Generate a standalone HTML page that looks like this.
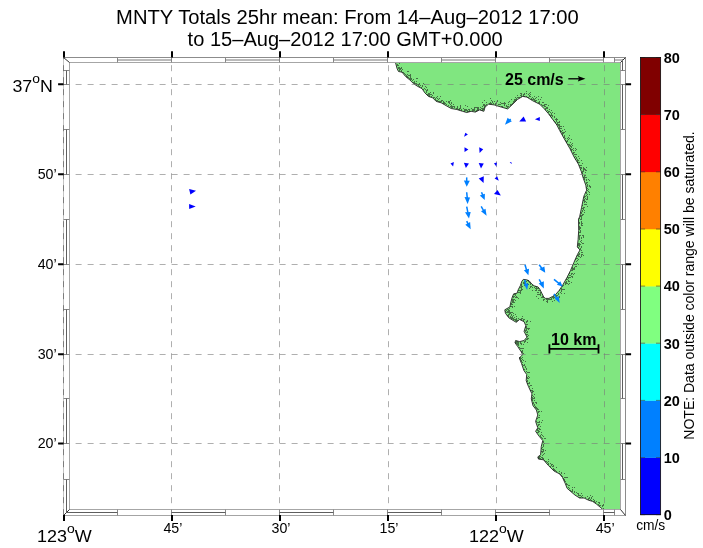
<!DOCTYPE html>
<html><head><meta charset="utf-8"><title>MNTY Totals 25hr mean</title>
<style>html,body{margin:0;padding:0;background:#fff}svg{display:block}</style></head>
<body>
<svg width="703" height="548" viewBox="0 0 703 548" font-family="'Liberation Sans', sans-serif">
<rect width="703" height="548" fill="#fff"/>
<polygon points="395.4,62.2 397.1,68.7 398.5,71.5 402.1,72.2 405.6,76.5 409.9,80.0 413.5,83.6 417.7,86.4 422.0,88.6 424.9,92.9 428.4,96.4 432.7,97.8 436.2,101.4 441.2,102.8 446.2,105.7 451.2,108.5 456.9,109.5 462.5,111.3 466.8,112.5 471.1,111.3 475.3,112.1 479.6,109.9 483.9,111.3 485.0,107.1 488.5,104.2 494.2,104.9 501.3,107.1 507.7,108.9 512.0,104.9 517.7,99.3 522.7,96.4 526.9,97.1 532.6,100.7 539.7,104.2 544.0,108.5 548.3,113.5 552.5,119.2 556.8,124.9 559.7,130.5 564.1,138.5 569.8,148.4 574.1,157.0 578.4,164.1 581.2,171.2 583.3,178.3 585.8,185.2 586.6,190.2 584.6,194.5 583.8,196.4 581.5,207.8 579.6,216.9 578.5,219.1 578.7,230.5 578.1,239.6 577.3,247.0 580.0,250.0 577.4,254.6 573.9,262.5 570.5,270.5 567.1,277.3 562.6,285.3 559.2,290.4 555.7,294.4 552.3,296.6 548.9,298.4 545.5,298.4 543.8,297.2 542.1,293.8 539.8,289.2 538.1,287.0 534.1,285.8 531.9,284.1 529.0,280.7 526.7,279.8 523.3,279.4 521.8,281.3 520.5,285.3 518.2,289.8 517.1,293.2 513.7,293.8 512.3,297.0 511.0,301.5 509.9,306.9 504.8,309.8 505.4,313.2 508.8,317.8 516.2,322.3 519.6,319.5 524.1,321.7 525.8,325.7 524.1,331.4 527.0,337.1 524.1,340.5 519.6,341.6 515.6,340.5 515.0,342.8 517.9,346.8 521.3,351.9 522.6,354.7 519.3,358.0 521.6,363.7 523.9,370.5 526.7,374.5 526.2,380.7 528.4,386.4 531.9,393.8 531.3,398.9 533.0,405.7 536.4,410.0 537.8,415.0 535.6,421.4 537.8,427.8 535.6,431.3 539.2,436.3 542.8,440.6 541.3,446.3 540.6,454.8 537.8,456.9 538.5,459.1 543.5,459.8 548.4,465.5 554.1,471.1 559.5,473.8 562.5,477.5 565.4,483.8 567.1,488.3 571.0,491.7 575.0,495.1 579.6,498.0 584.1,498.0 588.7,500.3 592.7,501.4 596.6,504.2 600.1,507.1 602.5,509.2 620.6,509.4 620.6,62.6" fill="#80e680"/>
<polyline points="395.4,62.2 397.1,68.7 398.5,71.5 402.1,72.2 405.6,76.5 409.9,80.0 413.5,83.6 417.7,86.4 422.0,88.6 424.9,92.9 428.4,96.4 432.7,97.8 436.2,101.4 441.2,102.8 446.2,105.7 451.2,108.5 456.9,109.5 462.5,111.3 466.8,112.5 471.1,111.3 475.3,112.1 479.6,109.9 483.9,111.3 485.0,107.1 488.5,104.2 494.2,104.9 501.3,107.1 507.7,108.9 512.0,104.9 517.7,99.3 522.7,96.4 526.9,97.1 532.6,100.7 539.7,104.2 544.0,108.5 548.3,113.5 552.5,119.2 556.8,124.9 559.7,130.5 564.1,138.5 569.8,148.4 574.1,157.0 578.4,164.1 581.2,171.2 583.3,178.3 585.8,185.2 586.6,190.2 584.6,194.5 583.8,196.4 581.5,207.8 579.6,216.9 578.5,219.1 578.7,230.5 578.1,239.6 577.3,247.0 580.0,250.0 577.4,254.6 573.9,262.5 570.5,270.5 567.1,277.3 562.6,285.3 559.2,290.4 555.7,294.4 552.3,296.6 548.9,298.4 545.5,298.4 543.8,297.2 542.1,293.8 539.8,289.2 538.1,287.0 534.1,285.8 531.9,284.1 529.0,280.7 526.7,279.8 523.3,279.4 521.8,281.3 520.5,285.3 518.2,289.8 517.1,293.2 513.7,293.8 512.3,297.0 511.0,301.5 509.9,306.9 504.8,309.8 505.4,313.2 508.8,317.8 516.2,322.3 519.6,319.5 524.1,321.7 525.8,325.7 524.1,331.4 527.0,337.1 524.1,340.5 519.6,341.6 515.6,340.5 515.0,342.8 517.9,346.8 521.3,351.9 522.6,354.7 519.3,358.0 521.6,363.7 523.9,370.5 526.7,374.5 526.2,380.7 528.4,386.4 531.9,393.8 531.3,398.9 533.0,405.7 536.4,410.0 537.8,415.0 535.6,421.4 537.8,427.8 535.6,431.3 539.2,436.3 542.8,440.6 541.3,446.3 540.6,454.8 537.8,456.9 538.5,459.1 543.5,459.8 548.4,465.5 554.1,471.1 559.5,473.8 562.5,477.5 565.4,483.8 567.1,488.3 571.0,491.7 575.0,495.1 579.6,498.0 584.1,498.0 588.7,500.3 592.7,501.4 596.6,504.2 600.1,507.1 602.5,509.2" fill="none" stroke="#222" stroke-width="0.9" stroke-linejoin="round"/>
<path d="M397 65.5h1M399 63.5h1M397 64.5h1M397 64.5h1M398 67.5h1M398 65.5h1M399 67.5h1M398 68.5h1M398 65.5h1M399 67.5h1M398 68.5h1M401 68.5h1M400 68.5h1M399 68.5h1M399 70.5h1M399 69.5h1M401 71.5h1M402 69.5h1M399 67.5h1M399 69.5h1M401 67.5h1M401 70.5h1M400 69.5h1M401 70.5h1M407 71.5h1M406 75.5h1M404 73.5h1M405 74.5h1M408 71.5h1M403 72.5h1M404 73.5h1M404 73.5h1M403 72.5h1M405 74.5h1M402 72.5h1M407 74.5h1M410 74.5h1M410 77.5h1M409 78.5h1M409 75.5h1M410 78.5h1M406 76.5h1M407 76.5h1M410 76.5h1M408 75.5h1M407 77.5h1M410 75.5h1M408 77.5h1M416 78.5h1M414 81.5h1M413 82.5h1M413 79.5h1M411 79.5h1M410 79.5h1M411 79.5h1M411 78.5h1M410 79.5h1M412 80.5h1M411 78.5h1M416 81.5h1M415 83.5h1M417 84.5h1M419 83.5h1M414 82.5h1M414 82.5h1M418 84.5h1M417 78.5h1M416 83.5h1M414 83.5h1M416 84.5h1M421 87.5h1M420 85.5h1M418 85.5h1M422 85.5h1M419 86.5h1M424 84.5h1M422 86.5h1M423 83.5h1M419 84.5h1M418 85.5h1M418 85.5h1M426 91.5h1M427 90.5h1M423 89.5h1M424 88.5h1M426 87.5h1M427 89.5h1M425 89.5h1M425 86.5h1M427 89.5h1M426 90.5h1M425 89.5h1M430 92.5h1M430 94.5h1M429 94.5h1M428 94.5h1M426 92.5h1M428 95.5h1M429 94.5h1M429 95.5h1M428 93.5h1M427 94.5h1M433 93.5h1M432 95.5h1M429 96.5h1M430 94.5h1M431 96.5h1M429 93.5h1M432 95.5h1M431 94.5h1M433 92.5h1M431 94.5h1M436 97.5h1M433 97.5h1M433 97.5h1M435 98.5h1M437 98.5h1M435 98.5h1M435 99.5h1M435 98.5h1M434 97.5h1M437 96.5h1M435 99.5h1M440 96.5h1M439 98.5h1M438 101.5h1M440 96.5h1M440 101.5h1M441 100.5h1M439 101.5h1M441 101.5h1M437 100.5h1M438 99.5h1M436 100.5h1M445 103.5h1M445 103.5h1M446 101.5h1M448 101.5h1M443 101.5h1M444 103.5h1M446 104.5h1M444 102.5h1M444 103.5h1M443 102.5h1M446 101.5h1M443 103.5h1M442 100.5h1M448 102.5h1M452 106.5h1M450 100.5h1M449 102.5h1M448 105.5h1M449 101.5h1M451 105.5h1M449 103.5h1M451 103.5h1M450 106.5h1M450 106.5h1M451 102.5h1M450 104.5h1M451 107.5h1M456 108.5h1M454 106.5h1M457 106.5h1M453 106.5h1M453 106.5h1M451 107.5h1M452 107.5h1M453 106.5h1M453 104.5h1M454 107.5h1M451 106.5h1M453 104.5h1M458 109.5h1M460 108.5h1M461 110.5h1M460 105.5h1M459 109.5h1M460 107.5h1M461 109.5h1M460 106.5h1M459 108.5h1M457 108.5h1M461 110.5h1M457 107.5h1M466 110.5h1M464 109.5h1M464 109.5h1M464 111.5h1M465 105.5h1M465 110.5h1M464 109.5h1M464 110.5h1M463 108.5h1M465 109.5h1M468 109.5h1M467 111.5h1M468 111.5h1M467 111.5h1M466 109.5h1M469 109.5h1M469 110.5h1M467 106.5h1M467 110.5h1M469 111.5h1M471 108.5h1M474 107.5h1M474 110.5h1M473 110.5h1M473 109.5h1M475 107.5h1M474 108.5h1M474 109.5h1M472 109.5h1M472 110.5h1M477 107.5h1M477 109.5h1M477 109.5h1M478 109.5h1M476 107.5h1M477 110.5h1M475 111.5h1M474 109.5h1M476 110.5h1M477 108.5h1M482 108.5h1M483 108.5h1M483 108.5h1M480 107.5h1M480 109.5h1M482 106.5h1M482 109.5h1M480 109.5h1M483 109.5h1M482 106.5h1M482 108.5h1M484 107.5h1M478 108.5h1M482 110.5h1M481 108.5h1M478 107.5h1M482 109.5h1M478 108.5h1M482 108.5h1M482 106.5h1M484 100.5h1M486 104.5h1M484 104.5h1M483 105.5h1M483 104.5h1M485 105.5h1M484 105.5h1M486 102.5h1M484 106.5h1M482 102.5h1M492 102.5h1M490 102.5h1M491 100.5h1M490 103.5h1M491 103.5h1M489 103.5h1M493 103.5h1M490 98.5h1M490 102.5h1M490 103.5h1M494 101.5h1M492 101.5h1M494 101.5h1M495 103.5h1M500 102.5h1M499 104.5h1M497 100.5h1M495 103.5h1M498 104.5h1M500 104.5h1M501 106.5h1M497 101.5h1M498 104.5h1M495 103.5h1M496 102.5h1M496 103.5h1M501 103.5h1M495 104.5h1M496 103.5h1M495 103.5h1M504 102.5h1M506 105.5h1M504 104.5h1M504 105.5h1M504 105.5h1M507 107.5h1M503 103.5h1M506 108.5h1M502 106.5h1M504 105.5h1M505 103.5h1M507 106.5h1M502 103.5h1M507 107.5h1M508 104.5h1M511 104.5h1M508 102.5h1M504 103.5h1M506 106.5h1M508 104.5h1M510 104.5h1M508 102.5h1M508 106.5h1M510 105.5h1M506 105.5h1M507 106.5h1M507 107.5h1M509 101.5h1M509 101.5h1M513 102.5h1M512 103.5h1M513 102.5h1M511 99.5h1M516 98.5h1M514 101.5h1M515 97.5h1M515 100.5h1M514 101.5h1M514 99.5h1M514 100.5h1M516 99.5h1M513 102.5h1M513 101.5h1M515 99.5h1M514 99.5h1M518 97.5h1M521 96.5h1M520 95.5h1M517 95.5h1M517 97.5h1M517 95.5h1M521 94.5h1M517 97.5h1M521 95.5h1M517 97.5h1M519 97.5h1M520 93.5h1M521 93.5h1M524 93.5h1M526 91.5h1M523 94.5h1M524 94.5h1M524 96.5h1M523 95.5h1M524 94.5h1M526 96.5h1M524 93.5h1M526 93.5h1M528 94.5h1M532 99.5h1M530 94.5h1M529 93.5h1M530 96.5h1M529 93.5h1M530 92.5h1M529 95.5h1M532 97.5h1M529 96.5h1M533 98.5h1M531 98.5h1M528 97.5h1M531 99.5h1M534 96.5h1M536 97.5h1M538 96.5h1M536 100.5h1M535 98.5h1M539 102.5h1M534 99.5h1M540 99.5h1M539 101.5h1M535 100.5h1M535 101.5h1M534 100.5h1M538 102.5h1M533 99.5h1M538 99.5h1M541 97.5h1M539 103.5h1M533 99.5h1M544 105.5h1M542 105.5h1M544 105.5h1M546 104.5h1M545 104.5h1M543 102.5h1M544 104.5h1M542 102.5h1M541 104.5h1M544 106.5h1M543 105.5h1M545 106.5h1M542 105.5h1M551 110.5h1M548 105.5h1M548 111.5h1M549 111.5h1M545 108.5h1M547 107.5h1M548 112.5h1M547 108.5h1M546 108.5h1M548 111.5h1M547 110.5h1M547 110.5h1M546 107.5h1M545 109.5h1M549 109.5h1M550 112.5h1M552 112.5h1M551 114.5h1M554 113.5h1M550 112.5h1M552 115.5h1M552 116.5h1M552 116.5h1M550 115.5h1M554 117.5h1M551 113.5h1M551 115.5h1M554 116.5h1M549 114.5h1M551 117.5h1M554 121.5h1M559 121.5h1M557 119.5h1M556 118.5h1M555 122.5h1M559 122.5h1M555 119.5h1M556 121.5h1M556 120.5h1M558 122.5h1M557 122.5h1M557 124.5h1M557 123.5h1M557 123.5h1M556 124.5h1M556 119.5h1M559 124.5h1M559 128.5h1M561 128.5h1M560 128.5h1M559 126.5h1M559 127.5h1M558 125.5h1M559 128.5h1M559 127.5h1M563 126.5h1M558 124.5h1M561 126.5h1M559 125.5h1M560 126.5h1M563 133.5h1M564 132.5h1M562 133.5h1M561 131.5h1M565 131.5h1M561 131.5h1M560 131.5h1M563 132.5h1M563 133.5h1M560 130.5h1M564 135.5h1M564 136.5h1M562 134.5h1M562 132.5h1M564 136.5h1M564 137.5h1M564 129.5h1M569 135.5h1M564 137.5h1M562 130.5h1M571 139.5h1M571 144.5h1M569 138.5h1M570 145.5h1M571 146.5h1M565 140.5h1M568 139.5h1M565 138.5h1M570 146.5h1M569 144.5h1M569 145.5h1M568 137.5h1M567 141.5h1M572 145.5h1M570 146.5h1M568 137.5h1M566 142.5h1M569 145.5h1M566 141.5h1M567 138.5h1M572 143.5h1M567 140.5h1M570 142.5h1M568 144.5h1M571 147.5h1M573 153.5h1M576 149.5h1M571 149.5h1M571 150.5h1M570 148.5h1M573 150.5h1M572 149.5h1M573 152.5h1M573 153.5h1M575 150.5h1M575 148.5h1M573 148.5h1M575 154.5h1M574 154.5h1M571 147.5h1M574 152.5h1M573 153.5h1M575 150.5h1M572 149.5h1M576 154.5h1M576 158.5h1M574 157.5h1M577 160.5h1M579 162.5h1M578 160.5h1M579 158.5h1M578 156.5h1M576 158.5h1M578 162.5h1M577 162.5h1M578 162.5h1M581 160.5h1M577 159.5h1M576 157.5h1M575 156.5h1M575 159.5h1M581 160.5h1M577 161.5h1M583 168.5h1M580 167.5h1M584 169.5h1M579 165.5h1M579 165.5h1M579 165.5h1M586 167.5h1M581 165.5h1M580 165.5h1M583 169.5h1M583 167.5h1M585 169.5h1M581 168.5h1M584 168.5h1M581 167.5h1M580 165.5h1M582 163.5h1M583 171.5h1M583 177.5h1M582 173.5h1M582 171.5h1M585 175.5h1M585 175.5h1M583 170.5h1M584 176.5h1M584 176.5h1M584 177.5h1M584 177.5h1M582 172.5h1M586 170.5h1M584 176.5h1M584 175.5h1M585 172.5h1M585 170.5h1M586 179.5h1M586 180.5h1M584 179.5h1M586 182.5h1M587 184.5h1M586 180.5h1M586 177.5h1M588 179.5h1M586 179.5h1M587 182.5h1M586 183.5h1M584 178.5h1M585 177.5h1M584 179.5h1M589 180.5h1M586 187.5h1M587 186.5h1M588 189.5h1M587 186.5h1M590 187.5h1M587 185.5h1M587 188.5h1M587 188.5h1M589 186.5h1M590 186.5h1M589 185.5h1M587 190.5h1M586 195.5h1M589 194.5h1M589 192.5h1M589 194.5h1M586 193.5h1M586 193.5h1M588 191.5h1M587 194.5h1M589 192.5h1M586 192.5h1M587 196.5h1M584 196.5h1M586 195.5h1M585 196.5h1M584 199.5h1M584 200.5h1M583 200.5h1M587 199.5h1M584 197.5h1M583 207.5h1M583 207.5h1M582 205.5h1M586 199.5h1M584 204.5h1M584 201.5h1M587 197.5h1M585 204.5h1M584 202.5h1M585 198.5h1M586 204.5h1M584 207.5h1M586 202.5h1M585 201.5h1M584 199.5h1M587 206.5h1M584 204.5h1M585 204.5h1M584 201.5h1M587 198.5h1M581 215.5h1M584 210.5h1M584 212.5h1M582 211.5h1M582 214.5h1M581 213.5h1M582 215.5h1M581 217.5h1M583 208.5h1M580 215.5h1M581 216.5h1M581 213.5h1M581 212.5h1M583 214.5h1M582 215.5h1M580 216.5h1M582 210.5h1M582 215.5h1M583 209.5h1M582 208.5h1M581 219.5h1M579 218.5h1M580 219.5h1M581 218.5h1M581 219.5h1M580 228.5h1M579 223.5h1M580 227.5h1M580 228.5h1M581 225.5h1M581 221.5h1M579 226.5h1M580 228.5h1M581 222.5h1M582 225.5h1M582 223.5h1M579 228.5h1M581 221.5h1M579 223.5h1M579 227.5h1M579 222.5h1M581 224.5h1M581 223.5h1M581 223.5h1M579 229.5h1M579 228.5h1M579 229.5h1M580 228.5h1M579 226.5h1M579 229.5h1M580 232.5h1M579 232.5h1M579 237.5h1M579 238.5h1M581 237.5h1M583 236.5h1M581 237.5h1M583 237.5h1M579 238.5h1M582 235.5h1M583 237.5h1M580 235.5h1M579 232.5h1M580 235.5h1M580 231.5h1M579 235.5h1M583 235.5h1M580 230.5h1M581 238.5h1M579 236.5h1M583 243.5h1M581 240.5h1M578 244.5h1M578 244.5h1M579 244.5h1M578 247.5h1M583 243.5h1M579 239.5h1M579 245.5h1M579 246.5h1M581 242.5h1M578 245.5h1M580 241.5h1M579 243.5h1M579 245.5h1M582 243.5h1M578 243.5h1M581 246.5h1M580 248.5h1M579 246.5h1M581 246.5h1M580 244.5h1M581 247.5h1M579 245.5h1M579 246.5h1M580 249.5h1M579 253.5h1M583 255.5h1M581 254.5h1M581 254.5h1M579 253.5h1M582 254.5h1M579 254.5h1M581 250.5h1M581 255.5h1M581 252.5h1M578 254.5h1M582 252.5h1M577 258.5h1M577 260.5h1M577 263.5h1M578 255.5h1M578 256.5h1M577 263.5h1M578 259.5h1M575 259.5h1M577 263.5h1M576 258.5h1M578 256.5h1M578 256.5h1M581 256.5h1M577 255.5h1M578 264.5h1M579 256.5h1M578 255.5h1M576 261.5h1M580 257.5h1M572 270.5h1M574 269.5h1M573 269.5h1M574 267.5h1M571 270.5h1M572 268.5h1M572 267.5h1M573 269.5h1M572 268.5h1M575 264.5h1M576 264.5h1M575 266.5h1M573 268.5h1M574 264.5h1M574 268.5h1M574 268.5h1M572 269.5h1M571 270.5h1M576 266.5h1M568 277.5h1M573 274.5h1M572 276.5h1M569 275.5h1M573 274.5h1M571 274.5h1M572 277.5h1M570 277.5h1M571 273.5h1M569 273.5h1M570 275.5h1M574 273.5h1M569 277.5h1M572 276.5h1M572 273.5h1M571 276.5h1M568 281.5h1M565 284.5h1M566 279.5h1M571 282.5h1M565 282.5h1M568 280.5h1M566 279.5h1M569 283.5h1M568 278.5h1M569 281.5h1M568 284.5h1M567 283.5h1M566 282.5h1M567 279.5h1M567 279.5h1M566 283.5h1M566 281.5h1M567 277.5h1M563 285.5h1M565 283.5h1M565 284.5h1M563 289.5h1M561 290.5h1M562 289.5h1M561 289.5h1M564 289.5h1M561 290.5h1M559 290.5h1M562 286.5h1M562 286.5h1M561 288.5h1M564 293.5h1M561 291.5h1M558 293.5h1M556 295.5h1M561 293.5h1M557 295.5h1M558 294.5h1M560 292.5h1M557 295.5h1M559 290.5h1M561 293.5h1M559 297.5h1M559 296.5h1M554 297.5h1M553 298.5h1M553 296.5h1M553 297.5h1M554 297.5h1M554 297.5h1M555 296.5h1M556 296.5h1M555 295.5h1M552 301.5h1M552 297.5h1M553 298.5h1M549 299.5h1M550 299.5h1M551 298.5h1M554 300.5h1M551 299.5h1M547 300.5h1M546 301.5h1M548 299.5h1M546 299.5h1M547 301.5h1M547 302.5h1M547 299.5h1M543 299.5h1M543 300.5h1M543 297.5h1M544 299.5h1M543 297.5h1M541 297.5h1M542 296.5h1M538 298.5h1M536 296.5h1M540 295.5h1M540 294.5h1M542 297.5h1M539 294.5h1M542 297.5h1M539 294.5h1M538 290.5h1M540 292.5h1M539 290.5h1M538 294.5h1M540 293.5h1M537 294.5h1M538 294.5h1M538 292.5h1M540 293.5h1M537 292.5h1M538 288.5h1M537 288.5h1M538 288.5h1M537 288.5h1M536 290.5h1M535 290.5h1M532 290.5h1M536 287.5h1M536 288.5h1M536 289.5h1M536 287.5h1M535 286.5h1M535 288.5h1M535 286.5h1M534 287.5h1M531 286.5h1M529 288.5h1M530 286.5h1M530 287.5h1M532 285.5h1M532 287.5h1M530 284.5h1M530 283.5h1M530 284.5h1M529 282.5h1M529 282.5h1M527 284.5h1M530 284.5h1M528 281.5h1M530 284.5h1M528 284.5h1M527 280.5h1M527 284.5h1M527 283.5h1M527 280.5h1M526 281.5h1M524 284.5h1M524 282.5h1M524 283.5h1M525 281.5h1M525 281.5h1M523 282.5h1M523 283.5h1M523 282.5h1M527 284.5h1M524 281.5h1M524 281.5h1M524 281.5h1M525 281.5h1M523 282.5h1M521 285.5h1M526 285.5h1M524 285.5h1M525 282.5h1M521 284.5h1M525 283.5h1M524 284.5h1M523 282.5h1M521 288.5h1M520 287.5h1M521 289.5h1M520 290.5h1M520 287.5h1M522 289.5h1M521 286.5h1M521 287.5h1M520 287.5h1M522 286.5h1M521 288.5h1M520 293.5h1M519 290.5h1M520 292.5h1M519 292.5h1M518 290.5h1M520 291.5h1M518 292.5h1M521 290.5h1M515 297.5h1M515 295.5h1M514 294.5h1M514 294.5h1M516 296.5h1M515 294.5h1M514 294.5h1M518 298.5h1M515 294.5h1M514 296.5h1M515 297.5h1M516 297.5h1M513 296.5h1M517 297.5h1M512 300.5h1M512 301.5h1M513 297.5h1M515 300.5h1M513 302.5h1M512 300.5h1M513 301.5h1M513 299.5h1M512 299.5h1M514 299.5h1M513 300.5h1M511 306.5h1M512 304.5h1M511 303.5h1M514 302.5h1M512 302.5h1M512 306.5h1M514 306.5h1M511 306.5h1M512 307.5h1M514 302.5h1M511 304.5h1M510 306.5h1M508 311.5h1M507 309.5h1M509 310.5h1M508 312.5h1M509 313.5h1M508 310.5h1M508 309.5h1M509 312.5h1M506 312.5h1M509 311.5h1M505 311.5h1M510 312.5h1M509 308.5h1M507 312.5h1M507 309.5h1M507 312.5h1M509 312.5h1M507 312.5h1M506 310.5h1M507 311.5h1M507 315.5h1M511 312.5h1M512 312.5h1M508 310.5h1M508 312.5h1M509 314.5h1M508 316.5h1M508 315.5h1M508 314.5h1M507 315.5h1M510 313.5h1M510 316.5h1M510 317.5h1M515 320.5h1M510 317.5h1M513 318.5h1M516 318.5h1M511 314.5h1M511 318.5h1M514 319.5h1M511 317.5h1M511 315.5h1M512 317.5h1M512 318.5h1M515 320.5h1M514 317.5h1M513 319.5h1M513 313.5h1M516 319.5h1M513 315.5h1M512 316.5h1M515 314.5h1M516 321.5h1M516 320.5h1M515 319.5h1M516 316.5h1M516 320.5h1M515 320.5h1M518 318.5h1M516 320.5h1M517 320.5h1M522 318.5h1M523 320.5h1M521 319.5h1M521 318.5h1M522 316.5h1M521 319.5h1M520 319.5h1M521 318.5h1M524 319.5h1M524 319.5h1M523 319.5h1M526 322.5h1M527 324.5h1M530 321.5h1M526 321.5h1M526 324.5h1M527 321.5h1M526 322.5h1M526 321.5h1M527 324.5h1M527 320.5h1M525 330.5h1M527 328.5h1M528 328.5h1M526 328.5h1M525 330.5h1M526 327.5h1M526 329.5h1M527 328.5h1M526 326.5h1M525 327.5h1M526 330.5h1M529 328.5h1M527 331.5h1M528 335.5h1M525 330.5h1M527 334.5h1M527 332.5h1M526 334.5h1M528 335.5h1M526 332.5h1M525 331.5h1M527 336.5h1M528 329.5h1M525 331.5h1M526 332.5h1M527 332.5h1M526 334.5h1M527 342.5h1M527 339.5h1M526 339.5h1M528 338.5h1M525 340.5h1M528 338.5h1M525 340.5h1M527 338.5h1M527 338.5h1M525 341.5h1M524 341.5h1M521 344.5h1M520 342.5h1M520 343.5h1M523 344.5h1M521 343.5h1M520 343.5h1M524 342.5h1M521 344.5h1M520 343.5h1M515 342.5h1M516 343.5h1M517 341.5h1M517 342.5h1M517 342.5h1M518 343.5h1M516 342.5h1M517 342.5h1M517 342.5h1M516 341.5h1M517 343.5h1M518 342.5h1M517 344.5h1M518 344.5h1M520 342.5h1M518 345.5h1M516 342.5h1M517 342.5h1M515 342.5h1M518 344.5h1M518 343.5h1M517 343.5h1M516 343.5h1M522 351.5h1M522 348.5h1M522 350.5h1M521 348.5h1M520 348.5h1M519 347.5h1M521 351.5h1M522 348.5h1M523 348.5h1M522 352.5h1M523 353.5h1M523 353.5h1M523 353.5h1M520 359.5h1M522 359.5h1M520 357.5h1M520 358.5h1M522 357.5h1M522 357.5h1M520 357.5h1M521 361.5h1M522 362.5h1M525 361.5h1M521 360.5h1M520 359.5h1M523 360.5h1M521 358.5h1M521 360.5h1M519 357.5h1M522 364.5h1M524 369.5h1M524 369.5h1M524 364.5h1M525 367.5h1M523 365.5h1M524 365.5h1M526 368.5h1M522 364.5h1M525 366.5h1M523 365.5h1M526 371.5h1M529 372.5h1M528 372.5h1M528 372.5h1M526 369.5h1M527 372.5h1M526 371.5h1M527 377.5h1M528 376.5h1M527 380.5h1M527 378.5h1M529 377.5h1M528 376.5h1M528 378.5h1M528 378.5h1M527 377.5h1M527 380.5h1M527 380.5h1M527 380.5h1M527 383.5h1M529 382.5h1M527 381.5h1M528 383.5h1M529 383.5h1M527 380.5h1M529 382.5h1M533 391.5h1M531 385.5h1M529 386.5h1M532 391.5h1M532 392.5h1M530 390.5h1M532 391.5h1M529 386.5h1M530 385.5h1M531 390.5h1M532 390.5h1M532 388.5h1M533 396.5h1M532 398.5h1M532 397.5h1M532 395.5h1M534 398.5h1M534 394.5h1M533 398.5h1M534 397.5h1M533 402.5h1M536 403.5h1M535 402.5h1M532 400.5h1M534 404.5h1M533 402.5h1M532 399.5h1M534 404.5h1M534 400.5h1M533 403.5h1M535 407.5h1M536 407.5h1M536 402.5h1M535 406.5h1M537 408.5h1M536 408.5h1M536 408.5h1M536 407.5h1M534 405.5h1M539 411.5h1M538 409.5h1M538 411.5h1M541 411.5h1M537 409.5h1M538 411.5h1M538 412.5h1M537 409.5h1M539 417.5h1M536 421.5h1M539 415.5h1M539 417.5h1M538 417.5h1M537 418.5h1M542 420.5h1M539 415.5h1M537 418.5h1M539 421.5h1M538 424.5h1M538 425.5h1M540 426.5h1M537 422.5h1M537 426.5h1M539 424.5h1M538 422.5h1M536 421.5h1M539 422.5h1M541 422.5h1M537 429.5h1M539 429.5h1M539 428.5h1M538 430.5h1M537 430.5h1M538 428.5h1M537 432.5h1M541 434.5h1M538 431.5h1M537 430.5h1M540 429.5h1M539 431.5h1M541 432.5h1M537 430.5h1M538 432.5h1M540 435.5h1M540 436.5h1M542 435.5h1M541 437.5h1M544 438.5h1M542 438.5h1M545 438.5h1M543 436.5h1M544 443.5h1M543 441.5h1M543 446.5h1M543 444.5h1M543 442.5h1M543 445.5h1M543 444.5h1M544 443.5h1M543 441.5h1M543 449.5h1M541 448.5h1M545 450.5h1M541 451.5h1M543 454.5h1M542 452.5h1M542 449.5h1M542 447.5h1M544 453.5h1M543 450.5h1M543 451.5h1M542 452.5h1M542 451.5h1M540 458.5h1M538 457.5h1M539 458.5h1M538 458.5h1M539 456.5h1M540 456.5h1M538 458.5h1M542 457.5h1M542 455.5h1M539 457.5h1M538 458.5h1M541 457.5h1M543 458.5h1M540 458.5h1M542 458.5h1M543 459.5h1M542 458.5h1M550 463.5h1M545 461.5h1M548 463.5h1M548 464.5h1M544 460.5h1M547 462.5h1M546 461.5h1M547 462.5h1M548 459.5h1M548 461.5h1M544 460.5h1M551 465.5h1M550 466.5h1M552 464.5h1M554 470.5h1M551 464.5h1M554 469.5h1M553 468.5h1M553 469.5h1M552 466.5h1M554 469.5h1M553 466.5h1M553 465.5h1M559 471.5h1M556 471.5h1M556 467.5h1M559 471.5h1M554 470.5h1M555 470.5h1M559 473.5h1M555 470.5h1M555 470.5h1M561 472.5h1M564 473.5h1M562 476.5h1M560 474.5h1M562 476.5h1M561 475.5h1M561 473.5h1M566 483.5h1M564 479.5h1M564 480.5h1M564 477.5h1M565 481.5h1M563 478.5h1M565 477.5h1M567 477.5h1M564 479.5h1M566 477.5h1M567 484.5h1M566 484.5h1M566 483.5h1M568 485.5h1M567 484.5h1M566 483.5h1M569 485.5h1M572 487.5h1M570 490.5h1M569 488.5h1M572 489.5h1M569 488.5h1M568 487.5h1M572 489.5h1M571 491.5h1M574 492.5h1M572 491.5h1M572 490.5h1M576 492.5h1M571 491.5h1M574 492.5h1M574 491.5h1M574 487.5h1M580 495.5h1M579 497.5h1M577 493.5h1M578 493.5h1M579 495.5h1M578 495.5h1M578 495.5h1M578 494.5h1M582 497.5h1M581 493.5h1M582 495.5h1M580 497.5h1M580 495.5h1M581 496.5h1M588 499.5h1M588 498.5h1M587 496.5h1M589 497.5h1M589 498.5h1M588 499.5h1M588 498.5h1M585 497.5h1M590 499.5h1M591 498.5h1M590 495.5h1M592 496.5h1M591 497.5h1M591 500.5h1M596 501.5h1M594 500.5h1M594 501.5h1M593 499.5h1M594 501.5h1M593 501.5h1M595 502.5h1M600 505.5h1M598 502.5h1M599 502.5h1M598 504.5h1M599 503.5h1M598 502.5h1M599 505.5h1M602 506.5h1M603 505.5h1M603 504.5h1M602 505.5h1M603 508.5h1" stroke="#1a1a1a" stroke-width="1" fill="none" opacity="0.58" shape-rendering="crispEdges"/>
<line x1="171.5" y1="515.2" x2="171.5" y2="62" stroke="#787878" stroke-width="0.6" stroke-dasharray="6 6"/>
<line x1="279.5" y1="515.2" x2="279.5" y2="62" stroke="#787878" stroke-width="0.6" stroke-dasharray="6 6"/>
<line x1="388.5" y1="515.2" x2="388.5" y2="62" stroke="#787878" stroke-width="0.6" stroke-dasharray="6 6"/>
<line x1="496.5" y1="515.2" x2="496.5" y2="62" stroke="#787878" stroke-width="0.6" stroke-dasharray="6 6"/>
<line x1="604.5" y1="515.2" x2="604.5" y2="62" stroke="#787878" stroke-width="0.6" stroke-dasharray="6 6"/>
<line x1="63.6" y1="84.5" x2="620.5" y2="84.5" stroke="#787878" stroke-width="0.6" stroke-dasharray="6 6"/>
<line x1="63.6" y1="174.5" x2="620.5" y2="174.5" stroke="#787878" stroke-width="0.6" stroke-dasharray="6 6"/>
<line x1="63.6" y1="264.5" x2="620.5" y2="264.5" stroke="#787878" stroke-width="0.6" stroke-dasharray="6 6"/>
<line x1="63.6" y1="354.5" x2="620.5" y2="354.5" stroke="#787878" stroke-width="0.6" stroke-dasharray="6 6"/>
<line x1="63.6" y1="443.5" x2="620.5" y2="443.5" stroke="#787878" stroke-width="0.6" stroke-dasharray="6 6"/>
<path d="M63.5 57.5H625.5V515.5H63.5Z M70.0 63.0V509.0H620.0V63.0Z" fill="#fff" fill-rule="evenodd"/>
<path d="M63.5 57.5H625.5V515.5" fill="none" stroke="#8c8c8c" stroke-width="1"/>
<path d="M63.5 515.5H625.5" fill="none" stroke="#a4a4a4" stroke-width="1"/>
<path d="M63.5 57.5V515.5" fill="none" stroke="#c4c4c4" stroke-width="1"/>
<rect x="69.5" y="62.5" width="551.0" height="447.0" fill="none" stroke="#a6a6a6" stroke-width="1"/>
<line x1="63.5" y1="57.5" x2="69.5" y2="62.5" stroke="#333" stroke-width="1"/>
<line x1="625.5" y1="57.5" x2="620.5" y2="62.5" stroke="#333" stroke-width="1"/>
<line x1="63.5" y1="515.5" x2="69.5" y2="509.5" stroke="#333" stroke-width="1"/>
<line x1="625.5" y1="515.5" x2="620.5" y2="509.5" stroke="#333" stroke-width="1"/>
<path d="M117.5 57.5V62.5M117.5 509.5V515.5M171.5 57.5V62.5M171.5 509.5V515.5M225.5 57.5V62.5M225.5 509.5V515.5M279.5 57.5V62.5M279.5 509.5V515.5M333.5 57.5V62.5M333.5 509.5V515.5M387.5 57.5V62.5M387.5 509.5V515.5M441.5 57.5V62.5M441.5 509.5V515.5M495.5 57.5V62.5M495.5 509.5V515.5M549.5 57.5V62.5M549.5 509.5V515.5M603.5 57.5V62.5M603.5 509.5V515.5M614.5 57.5V62.5M614.5 509.5V515.5M63.5 70.5H69.5M620.5 70.5H625.5M63.5 84.5H69.5M620.5 84.5H625.5M63.5 129.5H69.5M620.5 129.5H625.5M63.5 174.5H69.5M620.5 174.5H625.5M63.5 219.5H69.5M620.5 219.5H625.5M63.5 264.5H69.5M620.5 264.5H625.5M63.5 309.5H69.5M620.5 309.5H625.5M63.5 354.5H69.5M620.5 354.5H625.5M63.5 398.5H69.5M620.5 398.5H625.5M63.5 443.5H69.5M620.5 443.5H625.5M63.5 479.5H69.5M620.5 479.5H625.5" stroke="#888" stroke-width="1" fill="none"/>
<path d="M66.5 512.5H117.5M171.5 512.5H225.5M279.5 512.5H333.5M387.5 512.5H441.5M495.5 512.5H549.5M603.5 512.5H614.5M622.5 59.5V70.5M66.5 70.5V84.5M622.5 84.5V129.5M66.5 129.5V174.5M622.5 174.5V219.5M66.5 219.5V264.5M622.5 264.5V309.5M66.5 309.5V354.5M622.5 354.5V398.5M66.5 398.5V443.5M622.5 443.5V479.5M66.5 479.5V512.5" stroke="#5e5e5e" stroke-width="1" fill="none"/>
<path d="M117.5 60.0H171.5M225.5 60.0H279.5M333.5 60.0H387.5M441.5 60.0H495.5M549.5 60.0H603.5M614.5 60.0H623.0" stroke="#777" stroke-width="1" fill="none"/>
<line x1="63.5" y1="515.2" x2="63.5" y2="57.5" stroke="#555" stroke-width="0.65" stroke-dasharray="6 6"/>
<path d="M64 51.3V57.5M64 515.0V521.0M172 51.3V57.5M172 515.0V521.0M280 51.3V57.5M280 515.0V521.0M388 51.3V57.5M388 515.0V521.0M496 51.3V57.5M496 515.0V521.0M604 51.3V57.5M604 515.0V521.0M58.1 84.2H63.7M625.5 84.2H631.1M58.1 174.3H63.7M625.5 174.3H631.1M58.1 264.3H63.7M625.5 264.3H631.1M58.1 354.3H63.7M625.5 354.3H631.1M58.1 443.4H63.7M625.5 443.4H631.1" stroke="#000" stroke-width="2" fill="none"/>
<polygon points="189.1,189.1 196.0,190.8 190.4,194.6" fill="#0000ff"/>
<polygon points="189.1,204.0 195.7,206.5 189.2,209.0" fill="#0000ff"/>
<polygon points="465.3,132.8 467.9,134.5 464.1,136.8" fill="#0000ff"/>
<polygon points="464.5,147.3 468.4,149.5 464.5,152.1" fill="#0000ff"/>
<polygon points="479.2,147.3 483.2,149.3 479.6,152.9" fill="#0000ff"/>
<polygon points="450.5,163.5 453.9,162.0 453.1,166.6" fill="#0000ff"/>
<polygon points="463.9,162.7 469.0,163.5 465.9,168.1" fill="#0000ff"/>
<polygon points="478.7,163.0 483.8,163.5 481.0,168.6" fill="#0000ff"/>
<polygon points="494.0,163.2 496.9,162.4 496.3,166.6" fill="#0000ff"/>
<polygon points="509.7,162.4 511.1,162.0 512.0,164.1" fill="#0000ff"/>
<polygon points="478.7,178.4 483.8,176.3 483.6,183.0" fill="#0000ff"/>
<polygon points="494.6,178.5 497.2,176.3 498.8,180.7" fill="#0000ff"/>
<polygon points="494.0,193.9 497.5,189.9 500.9,195.6" fill="#0000ff"/>
<polygon points="519.3,121.6 523.6,116.5 526.1,121.6" fill="#0000ff"/>
<polygon points="534.9,119.3 539.8,117.1 539.8,121.0" fill="#0000ff"/>
<polygon points="507.6,117.8 511.9,121.3 505.0,124.7" fill="#0080ff"/>
<line x1="466.7" y1="177.4" x2="466.7" y2="181.4" stroke="#0080ff" stroke-width="1.5"/>
<polygon points="463.9,180.5 469.8,180.8 466.7,186.8" fill="#0080ff"/>
<line x1="466.7" y1="192.2" x2="467.3" y2="198.4" stroke="#0080ff" stroke-width="1.5"/>
<polygon points="464.5,197.1 470.1,197.5 467.6,203.9" fill="#0080ff"/>
<line x1="466.7" y1="206.6" x2="467.9" y2="212.7" stroke="#0080ff" stroke-width="1.5"/>
<polygon points="465.0,212.3 470.7,211.9 469.0,218.4" fill="#0080ff"/>
<line x1="466.7" y1="221.2" x2="468.4" y2="224.6" stroke="#0080ff" stroke-width="1.5"/>
<polygon points="465.3,224.8 470.1,222.1 470.7,229.2" fill="#0080ff"/>
<line x1="481.5" y1="192.2" x2="483" y2="195.6" stroke="#0080ff" stroke-width="1.5"/>
<polygon points="479.8,195.6 484.9,193.7 484.7,200.1" fill="#0080ff"/>
<line x1="481.2" y1="206.4" x2="483.8" y2="211" stroke="#0080ff" stroke-width="1.5"/>
<polygon points="481.0,211.2 485.5,208.7 486.6,215.7" fill="#0080ff"/>
<line x1="525" y1="264.8" x2="526.7" y2="270.5" stroke="#0080ff" stroke-width="1.5"/>
<polygon points="523.9,270.3 529.0,268.8 528.4,275.3" fill="#0080ff"/>
<line x1="539.2" y1="264.8" x2="542.1" y2="268.8" stroke="#0080ff" stroke-width="1.5"/>
<polygon points="539.2,269.1 544.4,266.5 545.2,272.8" fill="#0080ff"/>
<line x1="524.8" y1="279.8" x2="525.9" y2="284.7" stroke="#0080ff" stroke-width="1.5"/>
<polygon points="523.9,284.1 528.4,283.6 527.1,290.0" fill="#0080ff"/>
<line x1="539.2" y1="279.4" x2="541.5" y2="283.6" stroke="#0080ff" stroke-width="1.5"/>
<polygon points="538.7,283.6 543.8,281.3 543.8,288.5" fill="#0080ff"/>
<line x1="554" y1="279.4" x2="559.2" y2="283.6" stroke="#0080ff" stroke-width="1.5"/>
<polygon points="556.9,284.7 560.3,281.3 562.6,286.6" fill="#0080ff"/>
<line x1="554" y1="293.8" x2="556.3" y2="297.8" stroke="#0080ff" stroke-width="1.5"/>
<polygon points="554.6,298.4 558.6,296.1 559.7,302.9" fill="#0080ff"/>
<line x1="510.6" y1="119.0" x2="509" y2="121" stroke="#0080ff" stroke-width="1.5"/>
<polygon points="509.0,121.0 509.0,121.0 509.0,121.0" fill="#0080ff"/>
<text x="505.0" y="84.5" font-size="16" font-weight="bold">25 cm/s</text>
<line x1="568.3" y1="78.8" x2="580" y2="78.8" stroke="#000" stroke-width="1.3"/>
<polygon points="577.8,76.0 585.4,78.8 577.8,81.6 579,78.8" fill="#000"/>
<path d="M549.4 348.9H598.5M549.4 344.2V353.4M598.5 344.2V353.4" stroke="#000" stroke-width="1.8" fill="none"/>
<text x="573.8" y="344.5" font-size="16" font-weight="bold" text-anchor="middle">10 km</text>
<text x="347.4" y="23.5" font-size="20" text-anchor="middle" textLength="462.6" lengthAdjust="spacingAndGlyphs">MNTY Totals 25hr mean: From 14–Aug–2012 17:00</text>
<text x="345.2" y="46.2" font-size="20" text-anchor="middle" textLength="315.2" lengthAdjust="spacingAndGlyphs">to 15–Aug–2012 17:00 GMT+0.000</text>
<text x="52.8" y="91.6" font-size="17.1" text-anchor="end" textLength="40.4" lengthAdjust="spacingAndGlyphs">37<tspan font-size="13.3" dy="-8.4">o</tspan><tspan dy="8.4">N</tspan></text>
<text x="56.6" y="179.1" font-size="14.2" text-anchor="end">50’</text>
<text x="56.6" y="269.1" font-size="14.2" text-anchor="end">40’</text>
<text x="56.6" y="359.0" font-size="14.2" text-anchor="end">30’</text>
<text x="56.6" y="448.1" font-size="14.2" text-anchor="end">20’</text>
<text x="64.4" y="541.6" font-size="17.1" text-anchor="middle" textLength="54.7" lengthAdjust="spacingAndGlyphs">123<tspan font-size="13.3" dy="-8.4">o</tspan><tspan dy="8.4">W</tspan></text>
<text x="496.3" y="541.6" font-size="17.1" text-anchor="middle" textLength="54.7" lengthAdjust="spacingAndGlyphs">122<tspan font-size="13.3" dy="-8.4">o</tspan><tspan dy="8.4">W</tspan></text>
<text x="172.9" y="532.9" font-size="14.2" text-anchor="middle">45’</text>
<text x="281.0" y="532.9" font-size="14.2" text-anchor="middle">30’</text>
<text x="389.0" y="532.9" font-size="14.2" text-anchor="middle">15’</text>
<text x="605.2" y="532.9" font-size="14.2" text-anchor="middle">45’</text>
<rect x="640.5" y="457.55" width="20.1" height="57.45" fill="#0000ff"/>
<rect x="640.5" y="400.40" width="20.1" height="57.45" fill="#0080ff"/>
<rect x="640.5" y="343.25" width="20.1" height="57.45" fill="#00ffff"/>
<rect x="640.5" y="286.10" width="20.1" height="57.45" fill="#80ff80"/>
<rect x="640.5" y="228.95" width="20.1" height="57.45" fill="#ffff00"/>
<rect x="640.5" y="171.80" width="20.1" height="57.45" fill="#ff8000"/>
<rect x="640.5" y="114.65" width="20.1" height="57.45" fill="#ff0000"/>
<rect x="640.5" y="57.50" width="20.1" height="57.45" fill="#800000"/>
<text x="663.7" y="520.0" font-size="14.5" font-weight="bold">0</text>
<text x="663.7" y="462.9" font-size="14.5" font-weight="bold">10</text>
<text x="663.7" y="405.7" font-size="14.5" font-weight="bold">20</text>
<text x="663.7" y="348.6" font-size="14.5" font-weight="bold">30</text>
<text x="663.7" y="291.4" font-size="14.5" font-weight="bold">40</text>
<text x="663.7" y="234.3" font-size="14.5" font-weight="bold">50</text>
<text x="663.7" y="177.1" font-size="14.5" font-weight="bold">60</text>
<text x="663.7" y="119.9" font-size="14.5" font-weight="bold">70</text>
<text x="663.7" y="62.8" font-size="14.5" font-weight="bold">80</text>
<path d="M640.5 514.7h4.6M660.6 514.7h-4.6M640.5 457.6h4.6M660.6 457.6h-4.6M640.5 400.4h4.6M660.6 400.4h-4.6M640.5 343.2h4.6M660.6 343.2h-4.6M640.5 286.1h4.6M660.6 286.1h-4.6M640.5 229.0h4.6M660.6 229.0h-4.6M640.5 171.8h4.6M660.6 171.8h-4.6M640.5 114.6h4.6M660.6 114.6h-4.6M640.5 57.5h4.6M660.6 57.5h-4.6" stroke="#3a3a3a" stroke-width="0.8" opacity="0.75"/>
<rect x="640.5" y="57.5" width="20.1" height="457.2" fill="none" stroke="#141010" stroke-width="0.85"/>
<text x="650.7" y="529.8" font-size="13.8" text-anchor="middle">cm/s</text>
<text transform="translate(694.2 439.7) rotate(-90)" font-size="14" textLength="308.4" lengthAdjust="spacingAndGlyphs">NOTE: Data outside color range will be saturated.</text>
</svg>
</body></html>
